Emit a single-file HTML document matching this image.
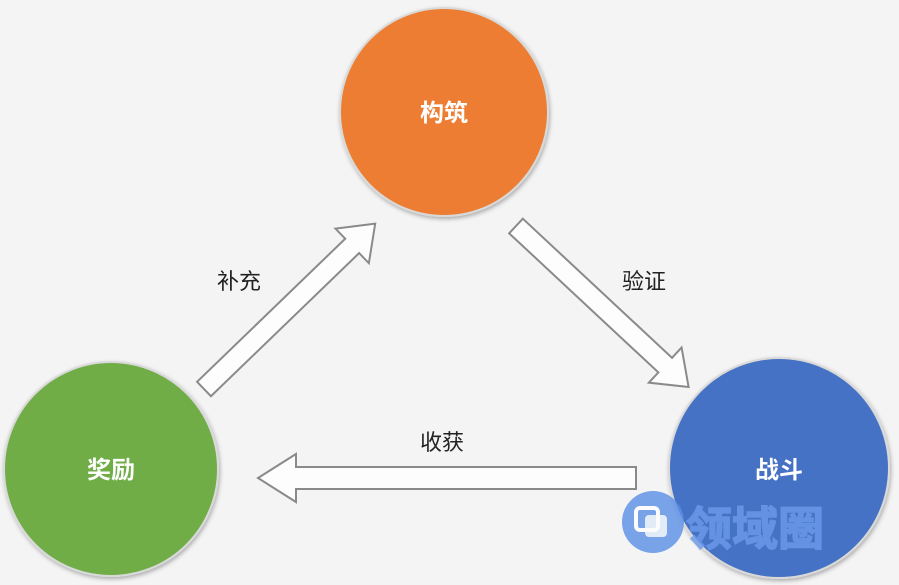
<!DOCTYPE html>
<html><head><meta charset="utf-8"><style>
html,body{margin:0;padding:0;background:#f4f4f4;}
svg{display:block}
text{font-family:"Liberation Sans","Noto Sans CJK SC",sans-serif;}
</style></head><body>
<svg width="899" height="585" viewBox="0 0 899 585" xmlns="http://www.w3.org/2000/svg">
<rect width="899" height="585" fill="#f4f4f4"/>
<defs>
<filter id="sh" x="-20%" y="-20%" width="140%" height="140%"><feDropShadow dx="1" dy="2" stdDeviation="2" flood-color="#000" flood-opacity="0.3"/></filter>
</defs>
<circle cx="444" cy="112" r="104" fill="#ed7d31" stroke="#d9d9d9" stroke-width="2" filter="url(#sh)"/>
<circle cx="111" cy="469" r="107" fill="#70ad47" stroke="#d9d9d9" stroke-width="2" filter="url(#sh)"/>
<circle cx="779" cy="468" r="110" fill="#4472c4" stroke="#d9d9d9" stroke-width="2" filter="url(#sh)"/>
<g fill="#fdfdfd" stroke="#8a8a8a" stroke-width="2">
<polygon points="0,-10 206,-10 206,-24 238,0 206,24 206,10 0,10" transform="translate(204,389) rotate(-44)"/>
<polygon points="0,-10 204,-10 204,-24 236,0 204,24 204,10 0,10" transform="translate(516,226) rotate(43)"/>
<polygon points="0,-11 340,-11 340,-24 378,0 340,24 340,11 0,11" transform="translate(636,478) rotate(180)"/>
</g>
<g font-size="22" fill="#222">
<text x="217" y="289">补充</text>
<text x="622" y="289">验证</text>
<text x="420" y="450">收获</text>
</g>
<g font-size="24" font-weight="bold" fill="#fff" text-anchor="middle">
<text x="444" y="121">构筑</text>
<text x="111" y="478">奖励</text>
<text x="779" y="478">战斗</text>
</g>
<g opacity="0.8">
<circle cx="653" cy="522" r="31" fill="#5b8fe6"/>
<rect x="636" y="508" width="22" height="22" rx="4" fill="none" stroke="#fff" stroke-width="4"/>
<rect x="645" y="515" width="22" height="22" rx="4" fill="#fff" opacity="0.8"/>
<text x="686" y="545" font-size="46" font-weight="bold" fill="#6d9bea" stroke="#6d9bea" stroke-width="1.5">领域圈</text>
</g>
</svg>
</body></html>
